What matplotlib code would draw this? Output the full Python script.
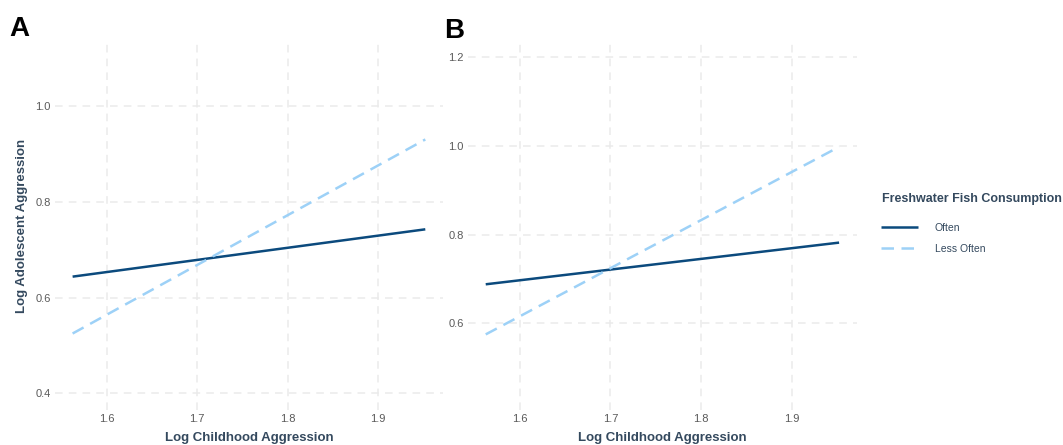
import numpy as np
import matplotlib.pyplot as plt

plt.rcParams['font.family'] = ['Liberation Sans', 'DejaVu Sans']

# endpoints of the fitted lines
childhood = [1.5625, 1.952]
often_a = [0.644, 0.743]
less_a = [0.525, 0.931]
often_b = [0.688, 0.782]
less_b = [0.575, 0.998]

x_ticks = [1.6, 1.7, 1.8, 1.9]
y_ticks_a = [0.4, 0.6, 0.8, 1.0]
y_ticks_b = [0.6, 0.8, 1.0, 1.2]

dark = '#0B4A7D'
light = '#9DD1F7'
grid_col = '#EBEBEB'
tick_col = '#5A5A5A'
title_col = '#34495E'

fig = plt.figure(figsize=(10.63, 4.45), dpi=100)
ax_a = fig.add_axes([0.0517, 0.0787, 0.365, 0.827])
ax_b = fig.add_axes([0.4403, 0.0787, 0.3657, 0.8254])


def style(ax, yticks, ylim):
    ax.set_xlim(1.5430, 1.9715)
    ax.set_ylim(*ylim)
    ax.set_xticks(x_ticks)
    ax.set_yticks(yticks)
    ax.set_xticklabels([f'{v:.1f}' for v in x_ticks])
    ax.set_yticklabels([f'{v:.1f}' for v in yticks])
    ax.grid(True, color=grid_col, linestyle=(0, (5, 4)), linewidth=1.1)
    ax.set_axisbelow(True)
    for s in ax.spines.values():
        s.set_visible(False)
    ax.tick_params(length=0, labelsize=8, colors=tick_col, pad=3)
    ax.set_xlabel('Log Childhood Aggression', fontsize=9.5, fontweight='bold',
                  color=title_col, labelpad=6)


l1, = ax_a.plot(childhood, often_a, color=dark, lw=1.8, solid_capstyle='butt')
l2, = ax_a.plot(childhood, less_a, color=light, lw=1.8, linestyle=(0, (5, 3)))
style(ax_a, y_ticks_a, (0.365, 1.135))
ax_a.set_ylabel('Log Adolescent Aggression', fontsize=9.5, fontweight='bold',
                color=title_col, labelpad=5)

ax_b.plot(childhood, often_b, color=dark, lw=1.8, solid_capstyle='butt')
ax_b.plot(childhood, less_b, color=light, lw=1.8, linestyle=(0, (5, 3)))
style(ax_b, y_ticks_b, (0.4045, 1.233))

fig.text(0.009, 0.963, 'A', fontsize=20, fontweight='bold', va='top')
fig.text(0.418, 0.96, 'B', fontsize=20, fontweight='bold', va='top')

fig.text(882 / 1063, 1 - 199 / 445, 'Freshwater Fish Consumption',
         fontsize=9, fontweight='bold', color=title_col, va='center')
leg = fig.legend([l1, l2], ['Often', 'Less Often'], loc='upper left',
                 bbox_to_anchor=(0.8215, 0.515), frameon=False,
                 fontsize=7.5, handlelength=3.6, handletextpad=1.6,
                 labelspacing=1.0, borderpad=0.2)
for t in leg.get_texts():
    t.set_color(title_col)

fig.savefig('out.png', dpi=100)
